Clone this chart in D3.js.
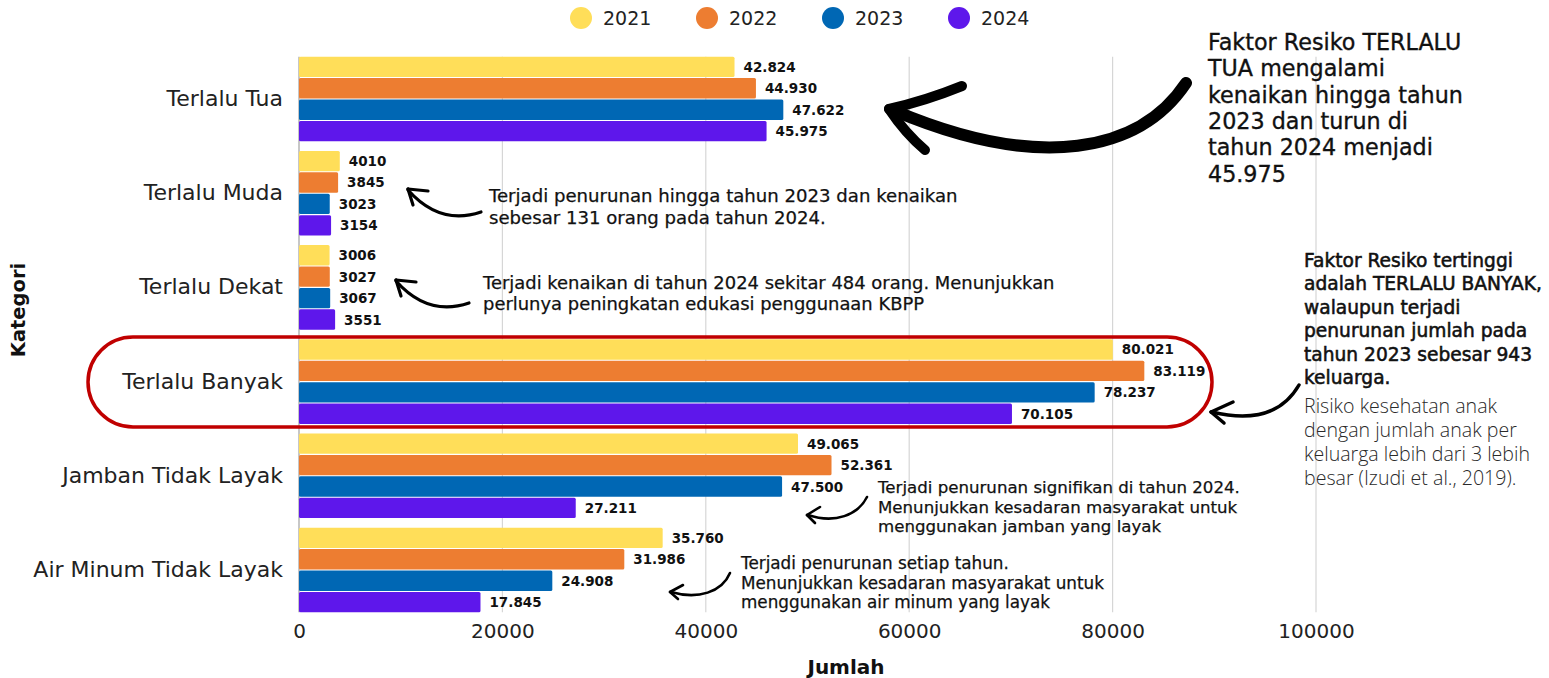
<!DOCTYPE html>
<html>
<head>
<meta charset="utf-8">
<script src="https://cdn.jsdelivr.net/npm/d3@7/dist/d3.min.js"></script>
<style>
  html, body { margin: 0; padding: 0; background: #ffffff; }
  svg { display: block; }
</style>
</head>
<body>
<svg id="chart" width="1549" height="678"></svg>
<script>
// ---------------- DATA ----------------
const categories = ["Terlalu Tua", "Terlalu Muda", "Terlalu Dekat", "Terlalu Banyak", "Jamban Tidak Layak", "Air Minum Tidak Layak"];
const years = ["2021", "2022", "2023", "2024"];
const values2021 = [42824, 4010, 3006, 80021, 49065, 35760];
const values2022 = [44930, 3845, 3027, 83119, 52361, 31986];
const values2023 = [47622, 3023, 3067, 78237, 47500, 24908];
const values2024 = [45975, 3154, 3551, 70105, 27211, 17845];
const xTicks = [0, 20000, 40000, 60000, 80000, 100000];
const seriesValues = [values2021, values2022, values2023, values2024];

// ---------------- STYLE ----------------
const colors = ["#FFDE59", "#ED7D31", "#0067B4", "#5E17EB"];
const FONT = "'DejaVu Sans', 'Noto Sans', sans-serif";

const svg = d3.select("#chart");

const x = d3.scaleLinear().domain([0, 100000]).range([299, 1316]);
const y = d3.scaleBand().domain(categories).range([56.7, 612.3]).paddingInner(0.102).paddingOuter(0);
const yInner = d3.scaleBand().domain(years).range([0, y.bandwidth()]).paddingInner(0.05);
const color = d3.scaleOrdinal().domain(years).range(colors);

// gridlines
svg.append("g").selectAll("line").data(xTicks.filter(t => t > 0)).join("line")
  .attr("x1", d => x(d)).attr("x2", d => x(d))
  .attr("y1", 56.7).attr("y2", 612.3)
  .attr("stroke", "#d6d6d6").attr("stroke-width", 1.2);
svg.append("line").attr("x1", x(0)).attr("x2", x(0)).attr("y1", 56.7).attr("y2", 612.3)
  .attr("stroke", "#b5b5b5").attr("stroke-width", 1.5);

// x axis
const xAxis = svg.append("g").attr("transform", "translate(0,620)")
  .call(d3.axisBottom(x).tickValues(xTicks).tickSize(0).tickPadding(4).tickFormat(d3.format("d")));
xAxis.select(".domain").remove();
xAxis.selectAll("text").attr("font-family", FONT).attr("font-size", 20).attr("fill", "#222");

// y axis labels
const yAxis = svg.append("g").attr("transform", "translate(299,0)")
  .call(d3.axisLeft(y).tickSize(0).tickPadding(16));
yAxis.select(".domain").remove();
yAxis.selectAll("text").attr("font-family", FONT).attr("font-size", 22).attr("fill", "#222");

// data in long form
const rows = [];
categories.forEach((c, i) => years.forEach((yr, j) => rows.push({ cat: c, year: yr, value: seriesValues[j][i] })));
const fmt = v => v >= 10000 ? d3.format(",")(v).replace(/,/g, ".") : String(v);

// bars
svg.append("g").selectAll("rect").data(rows).join("rect")
  .attr("x", x(0))
  .attr("y", d => y(d.cat) + yInner(d.year))
  .attr("width", d => x(d.value) - x(0))
  .attr("height", yInner.bandwidth())
  .attr("rx", 1.5)
  .attr("fill", d => color(d.year));

// value labels
svg.append("g").selectAll("text").data(rows).join("text")
  .attr("x", d => x(d.value) + 9)
  .attr("y", d => y(d.cat) + yInner(d.year) + yInner.bandwidth() / 2 + 5)
  .attr("font-family", FONT).attr("font-weight", "bold").attr("font-size", 13.5)
  .attr("fill", "#111")
  .text(d => fmt(d.value));

// legend
const legend = svg.append("g");
years.forEach((yr, i) => {
  const cx = 581 + i * 126;
  legend.append("circle").attr("cx", cx).attr("cy", 18).attr("r", 11).attr("fill", color(yr));
  legend.append("text").attr("x", cx + 22).attr("y", 25).attr("font-family", FONT)
    .attr("font-size", 19).attr("fill", "#222").text(yr);
});

// axis titles
svg.append("text").attr("x", 846).attr("y", 674).attr("text-anchor", "middle")
  .attr("font-family", FONT).attr("font-weight", "bold").attr("font-size", 20).attr("fill", "#111").text("Jumlah");
svg.append("text").attr("transform", "translate(25,310) rotate(-90)").attr("text-anchor", "middle")
  .attr("font-family", FONT).attr("font-weight", "bold").attr("font-size", 19.5).attr("fill", "#111").text("Kategori");

// red highlight around Terlalu Banyak
svg.append("rect").attr("x", 88).attr("y", 337).attr("width", 1212 - 88).attr("height", 427 - 337)
  .attr("rx", 45).attr("ry", 45).attr("fill", "none").attr("stroke", "#C00000").attr("stroke-width", 3.5);

// annotation text blocks
function block(lines, x0, y0, lh, target, opts) {
  const g = svg.append("g");
  const t = g.append("text").attr("font-family", opts.family || FONT)
    .attr("font-weight", opts.weight || "normal").attr("fill", opts.fill || "#111").attr("font-size", 16);
  if (opts.stroke) t.attr("stroke", opts.fill || "#111").attr("stroke-width", opts.stroke);
  lines.forEach((l, i) => t.append("tspan").attr("x", x0).attr("y", y0 + i * lh).text(l));
  let maxW = 0;
  t.selectAll("tspan").each(function () { maxW = Math.max(maxW, this.getComputedTextLength()); });
  if (maxW > 0) t.attr("font-size", 16 * target / maxW);
}

block(["Faktor Resiko TERLALU", "TUA mengalami", "kenaikan hingga tahun", "2023 dan turun di", "tahun 2024 menjadi", "45.975"],
  1208, 50, 26.3, 255, { stroke: 0.35 });
block(["Terjadi penurunan hingga tahun 2023 dan kenaikan", "sebesar 131 orang pada tahun 2024."],
  489, 202, 21.5, 469, { stroke: 0.25 });
block(["Terjadi kenaikan di tahun 2024 sekitar 484 orang. Menunjukkan", "perlunya peningkatan edukasi penggunaan KBPP"],
  483, 289, 21, 572, { stroke: 0.25 });
block(["Faktor Resiko tertinggi", "adalah TERLALU BANYAK,", "walaupun terjadi", "penurunan jumlah pada", "tahun 2023 sebesar 943", "keluarga."],
  1304, 267, 23.4, 238, { stroke: 0.55 });
block(["Risiko kesehatan anak", "dengan jumlah anak per", "keluarga lebih dari 3 lebih", "besar (Izudi et al., 2019)."],
  1304, 413, 24, 226, { family: "'Open Sans', sans-serif", weight: 300, fill: "#2a2a2a" });
block(["Terjadi penurunan signifikan di tahun 2024.", "Menunjukkan kesadaran masyarakat untuk", "menggunakan jamban yang layak"],
  878, 493, 19.7, 362, { stroke: 0.25 });
block(["Terjadi penurunan setiap tahun.", "Menunjukkan kesadaran masyarakat untuk", "menggunakan air minum yang layak"],
  741, 569, 19.6, 363, { stroke: 0.25 });

// arrows
const arrows = svg.append("g").attr("fill", "none").attr("stroke", "#000").attr("stroke-linecap", "round").attr("stroke-linejoin", "round");
// big arrow
arrows.append("path").attr("d", "M1186,83 C1140,152 1040,172 895,111").attr("stroke-width", 12);
arrows.append("path").attr("d", "M889,109 Q925,101 962,86").attr("stroke-width", 10);
arrows.append("path").attr("d", "M889,109 Q905,133 925,150").attr("stroke-width", 10);
// small arrows
function smallArrow(tip, arm1, arm2, shaft, w) {
  arrows.append("path").attr("d", shaft).attr("stroke-width", w);
  arrows.append("path").attr("d", `M${tip[0]},${tip[1]} L${arm1[0]},${arm1[1]}`).attr("stroke-width", w);
  arrows.append("path").attr("d", `M${tip[0]},${tip[1]} L${arm2[0]},${arm2[1]}`).attr("stroke-width", w);
}
smallArrow([408, 189], [428, 191], [413, 205], "M408,190 Q440,226 481,212", 3.2);
smallArrow([396, 280], [416, 282], [401, 296], "M396,281 Q428,317 469,303", 3.2);
smallArrow([1211, 412], [1233, 402], [1224, 423], "M1212,412 C1245,420 1280,418 1299,385", 3.5);
smallArrow([807, 515], [820, 507], [815, 523], "M808,515 C835,524 858,515 867,497", 2.6);
smallArrow([670, 592], [683, 585], [678, 599], "M671,592 C698,600 722,592 730,573", 2.6);
</script>
</body>
</html>
